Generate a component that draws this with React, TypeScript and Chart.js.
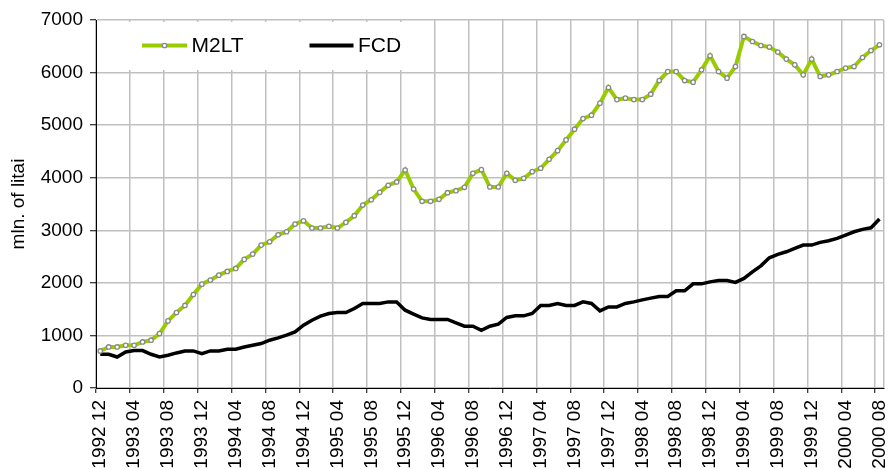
import React, { useEffect, useRef } from "react";
import { Chart, registerables } from "chart.js";

Chart.register(...registerables);

// Monthly categories from 1992 12 to 2000 08
const firstYear = 1992;
const firstMonth = 12;
const monthCount = 93;
const categories: string[] = [];
for (let k = 0; k < monthCount; k++) {
  const m0 = firstMonth - 1 + k;
  const y = firstYear + Math.floor(m0 / 12);
  const m = (m0 % 12) + 1;
  categories.push(`${y} ${m < 10 ? "0" + m : m}`);
}

const m2ltValues = [
  705, 781, 781, 813, 813, 876, 909, 1036, 1276, 1436, 1570, 1779,
  1975, 2052, 2147, 2217, 2274, 2446, 2547, 2718, 2781, 2915, 2972, 3118,
  3181, 3042, 3042, 3075, 3042, 3151, 3277, 3480, 3581, 3722, 3856, 3919,
  4147, 3785, 3551, 3551, 3589, 3715, 3753, 3818, 4084, 4153, 3823, 3823,
  4084, 3951, 3989, 4115, 4180, 4351, 4515, 4719, 4923, 5124, 5189, 5418,
  5715, 5486, 5513, 5486, 5486, 5589, 5848, 6020, 6020, 5848, 5818, 6052,
  6319, 6020, 5894, 6115, 6687, 6591, 6515, 6485, 6389, 6256, 6147, 5957,
  6256, 5925, 5957, 6020, 6085, 6115, 6287, 6420, 6528,
];

const fcdValues = [
  642, 642, 590, 686, 712, 712, 642, 590, 623, 667, 705, 705,
  655, 705, 705, 737, 737, 781, 813, 846, 909, 953, 1004, 1067,
  1194, 1290, 1366, 1417, 1436, 1436, 1512, 1608, 1608, 1608, 1638, 1638,
  1480, 1404, 1334, 1303, 1303, 1303, 1238, 1175, 1175, 1099, 1175, 1213,
  1341, 1372, 1372, 1417, 1570, 1570, 1608, 1570, 1570, 1638, 1608, 1467,
  1543, 1543, 1608, 1638, 1676, 1709, 1741, 1741, 1848, 1848, 1981, 1981,
  2019, 2046, 2046, 2008, 2084, 2210, 2324, 2477, 2541, 2591, 2656, 2718,
  2718, 2770, 2800, 2846, 2909, 2972, 3017, 3048, 3214,
];

const seriesNames = ["M2LT", "FCD"];
const yTitle = "mln. of litai";
const yMin = 0;
const yMax = 7000;
const yStep = 1000;
const labelEvery = 4;

const FONT = '"Liberation Sans", Arial, Helvetica, sans-serif';
const GREEN = "#99cc00";
const GRID = "#c0c0c0";
const MARKER_EDGE = "#8a8a8a";

const insideLegend = {
  id: "insideLegend",
  beforeDatasetsDraw(chart: any) {
    const { ctx, chartArea } = chart;
    const left = chartArea.left;
    const top = chartArea.top;
    ctx.save();
    ctx.fillStyle = "#ffffff";
    ctx.fillRect(left + 1.5, top + 2, 323, 48);
    const cy = top + 25.5;
    ctx.lineCap = "butt";
    // M2LT
    ctx.strokeStyle = GREEN;
    ctx.lineWidth = 4;
    ctx.beginPath();
    ctx.moveTo(left + 46, cy);
    ctx.lineTo(left + 91, cy);
    ctx.stroke();
    ctx.beginPath();
    ctx.arc(left + 68.5, cy, 2.2, 0, Math.PI * 2);
    ctx.fillStyle = "#ffffff";
    ctx.fill();
    ctx.lineWidth = 1.3;
    ctx.strokeStyle = MARKER_EDGE;
    ctx.stroke();
    ctx.fillStyle = "#000000";
    ctx.font = `21px ${FONT}`;
    ctx.textAlign = "left";
    ctx.textBaseline = "alphabetic";
    ctx.fillText(chart.data.datasets[0].label, left + 95.5, cy + 6);
    // FCD
    ctx.strokeStyle = "#000000";
    ctx.lineWidth = 4;
    ctx.beginPath();
    ctx.moveTo(left + 213.5, cy);
    ctx.lineTo(left + 257.5, cy);
    ctx.stroke();
    ctx.fillText(chart.data.datasets[1].label, left + 262, cy + 6);
    ctx.restore();
  },
};

export default function App() {
  const canvasRef = useRef<HTMLCanvasElement | null>(null);

  useEffect(() => {
    const canvas = canvasRef.current;
    if (!canvas) return;
    const chart = new Chart(canvas, {
      type: "line",
      data: {
        labels: categories,
        datasets: [
          {
            label: seriesNames[0],
            data: m2ltValues,
            borderColor: GREEN,
            borderWidth: 4,
            tension: 0,
            pointRadius: 2.2,
            pointBorderWidth: 1.3,
            pointBorderColor: MARKER_EDGE,
            pointBackgroundColor: "#ffffff",
            fill: false,
          },
          {
            label: seriesNames[1],
            data: fcdValues,
            borderColor: "#000000",
            borderWidth: 3.5,
            tension: 0,
            pointRadius: 0,
            fill: false,
          },
        ],
      },
      options: {
        responsive: false,
        animation: false,
        layout: { padding: { top: 20, right: 4, left: 0, bottom: 0 } },
        plugins: {
          legend: { display: false },
          tooltip: { enabled: false },
        },
        scales: {
          x: {
            type: "category",
            offset: true,
            grid: {
              offset: true,
              lineWidth: 1.5,
              color: (c: any) =>
                c.index === undefined || c.index % labelEvery === 0 ? GRID : "rgba(0,0,0,0)",
              tickColor: (c: any) =>
                c.index !== undefined && c.index % labelEvery === 0 ? "#000000" : "rgba(0,0,0,0)",
              tickLength: 5,
              tickWidth: 1,
            },
            border: { color: "#000000", width: 1 },
            ticks: {
              autoSkip: false,
              maxRotation: 90,
              minRotation: 90,
              padding: 7,
              color: "#000000",
              font: { family: FONT, size: 19 },
              callback: (_v: any, i: number) => (i % labelEvery === 0 ? categories[i] : ""),
            },
            afterFit: (s: any) => {
              s.height = 92;
              s.paddingLeft = 0;
              s.paddingRight = 0;
            },
          },
          y: {
            min: yMin,
            max: yMax,
            grid: {
              color: GRID,
              lineWidth: 1.5,
              tickColor: "#000000",
              tickLength: 6,
              tickWidth: 1,
            },
            border: { color: "#000000", width: 1 },
            ticks: {
              stepSize: yStep,
              padding: 7,
              color: "#000000",
              font: { family: FONT, size: 19 },
              callback: (v: any) => String(v),
            },
            title: {
              display: true,
              text: yTitle,
              color: "#000000",
              font: { family: FONT, size: 19 },
              padding: { top: 7, bottom: 0 },
            },
            afterFit: (s: any) => {
              s.width = 96;
              s.paddingTop = 0;
              s.paddingBottom = 0;
            },
          },
        },
      },
      plugins: [insideLegend],
    });
    return () => chart.destroy();
  }, []);

  return (
    <div
      style={{
        position: "fixed",
        left: 0,
        top: 0,
        width: 889,
        height: 469,
        overflow: "hidden",
        background: "#ffffff",
      }}
    >
      <canvas ref={canvasRef} width={889} height={480} style={{ width: 889, height: 480, display: "block" }} />
    </div>
  );
}
